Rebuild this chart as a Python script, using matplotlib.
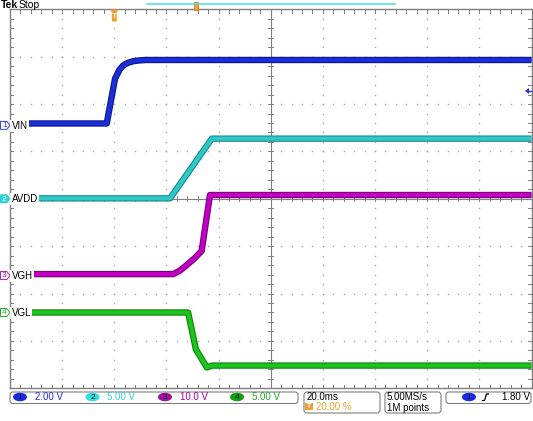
import numpy as np
import matplotlib
matplotlib.use('Agg')
import matplotlib.pyplot as plt
from matplotlib.patches import FancyBboxPatch, Ellipse, Polygon, Rectangle
from matplotlib.transforms import IdentityTransform
from matplotlib.lines import Line2D

plt.rcParams['font.family'] = ['Liberation Sans', 'DejaVu Sans']

W, H = 533, 421
DPI = 100

# ---------------- data ----------------
ms_per_div = 20.0
t_left_ms = -40.0
n_div_x, n_div_y = 10, 8

channel_names = ["VIN", "AVDD", "VGH", "VGL"]
channel_numbers = ["1", "2", "3", "4"]
volts_per_div = [2.0, 5.0, 10.0, 5.0]
volts_labels = ["2.00 V", "5.00 V", "10.0 V", "5.00 V"]
ground_div = [1.55, 0.0, -1.62, -2.40]

vin_t = [-40.0, -2.9, 0.3, 2.0, 3.4, 5.2, 7.3, 9.5, 11.8, 160.0]
vin_v = [0.08, 0.08, 1.98, 2.35, 2.53, 2.64, 2.71, 2.74, 2.76, 2.76]

avdd_t = [-40.0, 21.4, 37.4, 160.0]
avdd_v = [0.05, 0.05, 6.35, 6.35]

vgh_t = [-40.0, 22.6, 25.0, 27.1, 30.5, 33.5, 36.7, 160.0]
vgh_v = [0.3, 0.3, 1.0, 1.9, 3.5, 5.2, 17.0, 17.0]

vgl_t = [-40.0, 28.3, 31.3, 35.5, 37.5, 160.0]
vgl_v = [0.0, 0.0, -3.9, -5.8, -5.6, -5.6]

series_t = [vin_t, avdd_t, vgh_t, vgl_t]
series_v = [vin_v, avdd_v, vgh_v, vgl_v]

timebase_label = "20.0ms"
trigger_pos_label = "20.00 %"
sample_rate_label = "5.00MS/s"
record_label = "1M points"
trigger_level_label = "1.80 V"

# ---------------- style ----------------
trace_main = ['#1a2fd6', '#2fc8c8', '#c400c4', '#1ec41e']
trace_edge = ['#0a1590', '#1a8a8a', '#7a007a', '#0c820c']
marker_col = ['#3040e0', '#30d0d0', '#b020b0', '#20b020']
status_col = ['#2a2ad8', '#30d0d0', '#a800a8', '#20a820']
ell_col = ['#1a2ae0', '#30e0e0', '#a010a0', '#10a010']
orange = '#f0a030'
frame_col = '#7f7f7f'
dot_col = '#a8a8a8'

fig = plt.figure(figsize=(W / DPI, H / DPI), dpi=DPI)
fig.patch.set_facecolor('white')

gx0, gx1 = 10.0, 531.5
gy0, gy1 = 9.3, 388.3
ax = fig.add_axes([gx0 / W, 1 - gy1 / H, (gx1 - gx0) / W, (gy1 - gy0) / H])
t_right = t_left_ms + n_div_x * ms_per_div
ax.set_xlim(t_left_ms, t_right)
ax.set_ylim(-n_div_y / 2, n_div_y / 2)
ax.set_xticks([])
ax.set_yticks([])
for s in ax.spines.values():
    s.set_color(frame_col)
    s.set_linewidth(1.0)

# grid dots
minor_x = ms_per_div / 5
minor_y = 0.2
xs_minor = np.arange(t_left_ms, t_right + 1e-6, minor_x)
ys_minor = np.arange(-4, 4 + 1e-6, minor_y)
t_center = t_left_ms + 5 * ms_per_div
for k in range(1, n_div_x):
    xk = t_left_ms + k * ms_per_div
    if k == 5:
        continue
    ax.plot(np.full_like(ys_minor, xk), ys_minor, ls='none', marker='s', ms=1.0,
            mec='none', mfc=dot_col, zorder=1)
for j in range(-3, 4):
    if j == 0:
        continue
    ax.plot(xs_minor, np.full_like(xs_minor, j), ls='none', marker='s', ms=1.0,
            mec='none', mfc=dot_col, zorder=1)

# center lines with ticks
ax.axvline(t_center, color=frame_col, lw=0.8, zorder=1)
ax.axhline(0, color=frame_col, lw=0.8, zorder=1)
tick_y = 2.5 / 47.4
tick_x = 2.5 / 52.15 * ms_per_div
for xv in xs_minor:
    ax.plot([xv, xv], [-tick_y, tick_y], color=frame_col, lw=0.7, zorder=1)
    ax.plot([xv, xv], [4, 4 - 1.3 * tick_y], color=frame_col, lw=0.7, zorder=1)
    ax.plot([xv, xv], [-4, -4 + 1.3 * tick_y], color=frame_col, lw=0.7, zorder=1)
for yv in ys_minor:
    ax.plot([t_center - tick_x, t_center + tick_x], [yv, yv], color=frame_col, lw=0.7, zorder=1)
    ax.plot([t_left_ms, t_left_ms + 1.3 * tick_x], [yv, yv], color=frame_col, lw=0.7, zorder=1)
    ax.plot([t_right, t_right - 1.3 * tick_x], [yv, yv], color=frame_col, lw=0.7, zorder=1)

# traces
for i in range(4):
    t = np.array(series_t[i])
    y = ground_div[i] + np.array(series_v[i]) / volts_per_div[i]
    ax.plot(t, y, color=trace_edge[i], lw=4.6, solid_joinstyle='round',
            solid_capstyle='butt', zorder=3)
    ax.plot(t, y, color=trace_main[i], lw=3.0, solid_joinstyle='round',
            solid_capstyle='butt', zorder=4)

# ---------------- overlays in pixel coords ----------------
ID = IdentityTransform()


def Y(y):
    return H - y


def ptext(x, y, s, **kw):
    kw.setdefault('fontsize', 7)
    kw.setdefault('va', 'center')
    kw.setdefault('ha', 'left')
    return fig.text(x, Y(y), s, transform=ID, **kw)


# header
ptext(0.5, 5.5, "Tek", fontsize=7.5, fontweight='bold')
ptext(18.5, 5.5, "Stop", fontsize=7.5)
fig.add_artist(Line2D([147, 395], [Y(4), Y(4)], transform=ID, color='#50e0e8', lw=1.2))
fig.add_artist(Rectangle((193.5, Y(9.5)), 4.5, 8, transform=ID, fc=orange, ec='#d08010', lw=0.6))
# trigger position marker
fig.add_artist(Polygon([(110.5, Y(9.5)), (118.5, Y(9.5)), (116.8, Y(12.5)), (116.8, Y(21.5)),
                        (111.8, Y(21.5)), (111.8, Y(12.5))], closed=True, transform=ID,
                       fc=orange, ec='none', zorder=10))
ptext(114.3, 16.5, "T", fontsize=6, color='white', ha='center', fontweight='bold', zorder=11)

# trigger level arrow on right
fig.add_artist(Polygon([(525, Y(91)), (529, Y(88)), (529, Y(94))], closed=True, transform=ID,
                       fc='#2030e0', ec='none', zorder=10))
fig.add_artist(Line2D([528, 531], [Y(91), Y(91)], transform=ID, color='#2030e0', lw=1.0, zorder=10))

# left channel markers and labels
px_per_div_y = (gy1 - gy0) / n_div_y
for i in range(4):
    yc = (gy0 + gy1) / 2 - ground_div[i] * px_per_div_y
    fc = marker_col[i] if i == 1 else 'white'
    tc = 'white' if i == 1 else marker_col[i]
    fig.add_artist(Polygon([(0.5, Y(yc - 4)), (6.8, Y(yc - 4)), (10.0, Y(yc)), (6.8, Y(yc + 4)),
                            (0.5, Y(yc + 4))], closed=True, transform=ID, fc=fc,
                           ec=marker_col[i], lw=0.7, zorder=12))
    ptext(4.3, yc + 0.3, channel_numbers[i], fontsize=6, color=tc, ha='center', zorder=13)
    ptext(11.5, yc + 0.3, channel_names[i], fontsize=7, color='black', zorder=13,
          bbox=dict(boxstyle='square,pad=0.12', fc='white', ec='none'))

# ---------------- status bar ----------------
def rbox(x0, y0, x1, y1):
    fig.add_artist(FancyBboxPatch((x0, Y(y1)), x1 - x0, y1 - y0,
                                  boxstyle='round,pad=0,rounding_size=3', transform=ID,
                                  fc='white', ec=frame_col, lw=0.8))


rbox(10, 392, 298, 403.5)
rbox(304, 392, 380, 413)
rbox(385, 392, 441, 413)
rbox(446, 392, 531, 403.5)

ell_x = [20, 92.5, 165, 237]
txt_x = [35, 107, 180, 252]
for i in range(4):
    fig.add_artist(Ellipse((ell_x[i], Y(397)), 14, 8.5, transform=ID, fc=ell_col[i], ec='none'))
    ptext(ell_x[i], 397.3, channel_numbers[i], fontsize=6, color='#101040' if i == 0 else '#202020',
          ha='center')
    ptext(txt_x[i], 397.5, volts_labels[i], fontsize=7, color=status_col[i])

ptext(306.5, 397.5, timebase_label, fontsize=7)
fig.add_artist(Rectangle((305, Y(410)), 7.5, 7, transform=ID, fc=orange, ec='none'))
ptext(308.8, 406.6, "T", fontsize=5, color='white', ha='center', fontweight='bold')
ptext(315.5, 407.5, trigger_pos_label, fontsize=7, color=orange)

ptext(387, 397.5, sample_rate_label, fontsize=7)
ptext(387, 408, record_label, fontsize=7)

fig.add_artist(Ellipse((469, Y(397)), 14, 8.5, transform=ID, fc='#1a2ae0', ec='none'))
ptext(469, 397.3, "1", fontsize=6, color='#101040', ha='center')
fig.add_artist(Line2D([482.5, 484.5, 486.5, 488.5], [Y(400.5), Y(400.5), Y(394), Y(394)],
                      transform=ID, color='black', lw=0.9))
ptext(502, 397.5, trigger_level_label, fontsize=7)

fig.savefig('out.png', dpi=DPI, facecolor='white')
